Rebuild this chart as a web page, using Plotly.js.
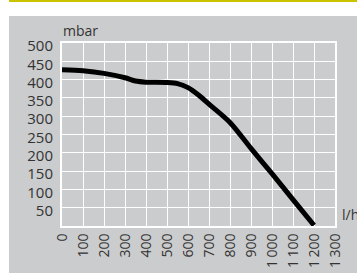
<!DOCTYPE html>
<html>
<head>
<meta charset="utf-8">
<script src="https://cdn.plot.ly/plotly-3.0.1.min.js"></script>
<style>html,body{margin:0;padding:0;background:#fff;}#chart{width:357px;height:273px;}</style>
</head>
<body>
<div id="chart"></div>
<script>
const flow = [0, 100, 200, 300, 350, 400, 500, 550, 600, 650, 700, 800, 900, 1000, 1100, 1200];
const pressure = [427, 424, 417, 405, 396, 393, 392, 389, 378, 358, 333, 283, 212, 143, 72, 2];
const xTickVals = [0, 100, 200, 300, 400, 500, 600, 700, 800, 900, 1000, 1100, 1200, 1300];
const xTickText = ['0', '100', '200', '300', '400', '500', '600', '700', '800', '900', '1\u2009000', '1\u2009100', '1\u2009200', '1\u2009300'];
const yTickVals = [50, 100, 150, 200, 250, 300, 350, 400, 450, 500];
const yTickText = ['50', '100', '150', '200', '250', '300', '350', '400', '450', '500'];
const yUnit = 'mbar';
const xUnit = 'l/h';

const gray = 'rgb(203,204,205)';
const font = {family: 'Open Sans, Noto Sans, sans-serif', size: 15, color: '#333'};
const xfont = {family: 'Open Sans, Noto Sans, sans-serif', size: 14, color: '#333'};
const unitFont = {family: 'Open Sans, Noto Sans, sans-serif', size: 14, color: '#333'};

const H = 183; // plot height in px
const B = 226; // pixel y of plot bottom
const py = p => (B - p) / H; // pixel y -> paper y

const trace = {
  x: flow, y: pressure, type: 'scatter', mode: 'lines',
  line: {color: '#000', width: 5, shape: 'spline', smoothing: 0.8},
  hoverinfo: 'skip'
};

const layout = {
  width: 357, height: 273,
  margin: {l: 62, r: 22, t: 43, b: 47, pad: 0},
  paper_bgcolor: '#fff', plot_bgcolor: gray,
  font: font,
  showlegend: false,
  xaxis: {
    range: [0, 1300], tickvals: xTickVals, ticktext: xTickText, tickangle: -90,
    showgrid: true, gridcolor: '#fff', gridwidth: 1, zeroline: false,
    showline: true, mirror: true, linecolor: '#fff', linewidth: 2,
    ticks: '', ticklabelstandoff: 0, tickfont: xfont, fixedrange: true
  },
  yaxis: {
    range: [0, 500], tickvals: yTickVals, ticktext: yTickText,
    showgrid: true, gridcolor: '#fff', gridwidth: 1, zeroline: false,
    showline: true, mirror: true, linecolor: '#fff', linewidth: 2,
    ticks: '', ticklabelstandoff: 4, ticklabelshift: 3, tickfont: font, fixedrange: true
  },
  shapes: [
    {type: 'rect', xref: 'paper', yref: 'paper', x0: -53/273, x1: 1.2, y0: -0.4, y1: py(16),
     fillcolor: gray, line: {width: 0}, layer: 'below'},
    {type: 'rect', xref: 'paper', yref: 'paper', x0: -53/273, x1: 1.2, y0: py(2), y1: py(-1),
     fillcolor: '#cbc300', line: {width: 0}, layer: 'below'}
  ],
  annotations: [
    {text: yUnit, xref: 'paper', yref: 'paper', x: 0, y: 1, xanchor: 'left', yanchor: 'bottom',
     xshift: -1, yshift: 1, showarrow: false, font: unitFont},
    {text: xUnit, xref: 'paper', yref: 'paper', x: 1, y: 0, xanchor: 'left', yanchor: 'bottom',
     xshift: 5, yshift: 0, showarrow: false, font: unitFont}
  ]
};

Plotly.newPlot('chart', [trace], layout, {staticPlot: true, displayModeBar: false});
</script>
</body>
</html>
